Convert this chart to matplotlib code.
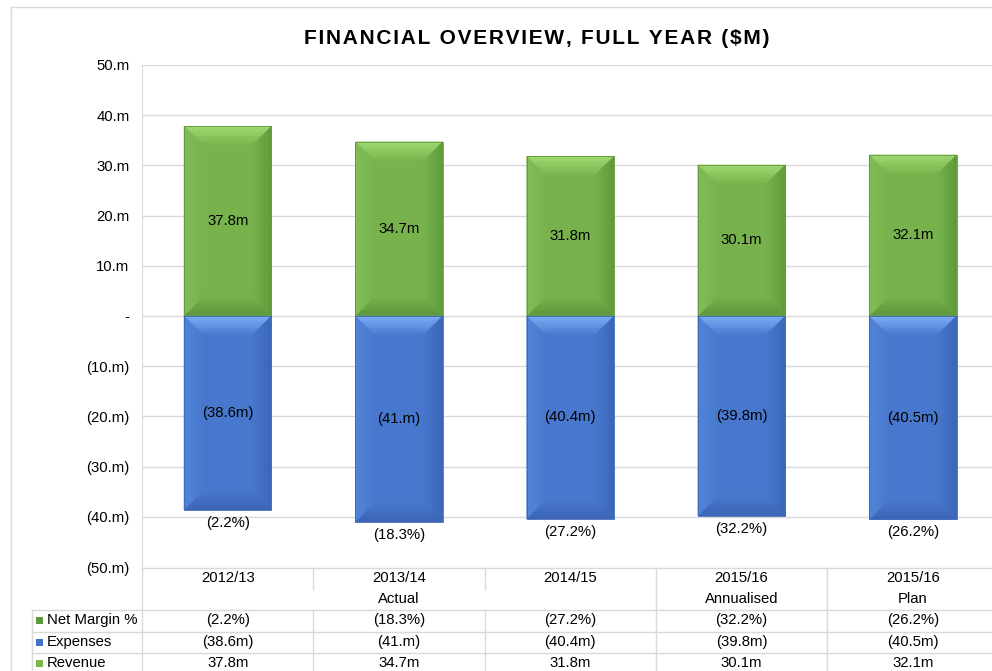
import matplotlib.pyplot as plt
import numpy as np
from matplotlib.patches import Polygon, Rectangle
from matplotlib.lines import Line2D
from matplotlib.colors import to_rgb
from matplotlib.transforms import blended_transform_factory

plt.rcParams['font.family'] = ['Liberation Sans', 'DejaVu Sans']

# data
years = ['2012/13', '2013/14', '2014/15', '2015/16', '2015/16']
groups = ['Actual', 'Annualised', 'Plan']
group_span = [(0, 2), (3, 3), (4, 4)]
revenue = [37.8, 34.7, 31.8, 30.1, 32.1]
expenses = [-38.6, -41.0, -40.4, -39.8, -40.5]
net_margin = [-2.2, -18.3, -27.2, -32.2, -26.2]
yticks = [50, 40, 30, 20, 10, 0, -10, -20, -30, -40, -50]

W, H = 992, 671
fs = 10.7
fig = plt.figure(figsize=(W / 100, H / 100), dpi=100)

def fx(px):
    return px / W

def fy(px):
    return 1 - px / H

# axes placement (right side of the chart is cut off in the reference)
cat_w = 171.3
ax = fig.add_axes([fx(142), fy(567), fx(5 * cat_w), fy(65) - fy(567)])
ax.set_xlim(-0.5, 4.5)
ax.set_ylim(-50, 50)

def fmt_m(v):
    if v == 0:
        return '-'
    s = ('%.1f' % abs(v)).rstrip('0') + 'm'
    return '(' + s + ')' if v < 0 else s

def fmt_pct(v):
    s = '%.1f%%' % abs(v)
    return '(' + s + ')' if v < 0 else s

def tick_lbl(v):
    if v == 0:
        return '-'
    s = '%d.m' % abs(v)
    return '(' + s + ')' if v < 0 else s

ax.set_yticks(yticks)
ax.set_yticklabels([tick_lbl(v) for v in yticks], fontsize=fs)
ax.set_xticks([])
ax.tick_params(axis='y', length=0, pad=9)
ax.yaxis.grid(True, color='#d9d9d9', linewidth=1)
ax.set_axisbelow(True)
for s in ['top', 'right', 'bottom']:
    ax.spines[s].set_visible(False)
ax.spines['left'].set_color('#d9d9d9')

# bevelled bars
bar_w = 0.51
bev_x = 20 / cat_w
bev_y = 20 / 5.02

green = dict(face='#77b24c', top='#a2da72', bot='#5d963a', left='#82bd57', right='#5e9a3a')
blue = dict(face='#4878cd', top='#7eaef6', bot='#3b64b4', left='#5286da', right='#3a66b8')

def mix(c1, c2, t):
    a, b = np.array(to_rgb(c1)), np.array(to_rgb(c2))
    return tuple(a + (b - a) * t)

def bevel_bar(x, y0, y1, c, n=8):
    x0, x1 = x - bar_w / 2, x + bar_w / 2
    lo, hi = min(y0, y1), max(y0, y1)
    ax.add_patch(Rectangle((x0, lo), bar_w, hi - lo, facecolor=c['face'], edgecolor='none', zorder=3))
    for k in range(n):
        a, b = k / n, (k + 1) / n
        col = lambda key: mix(c[key], c['face'], (k + 0.5) / n)
        ax_, bx_ = a * bev_x, b * bev_x
        ay_, by_ = a * bev_y, b * bev_y
        strips = [
            ([(x0 + ax_, hi - ay_), (x1 - ax_, hi - ay_), (x1 - bx_, hi - by_), (x0 + bx_, hi - by_)], 'top'),
            ([(x0 + ax_, lo + ay_), (x1 - ax_, lo + ay_), (x1 - bx_, lo + by_), (x0 + bx_, lo + by_)], 'bot'),
            ([(x0 + ax_, lo + ay_), (x0 + ax_, hi - ay_), (x0 + bx_, hi - by_), (x0 + bx_, lo + by_)], 'left'),
            ([(x1 - ax_, lo + ay_), (x1 - ax_, hi - ay_), (x1 - bx_, hi - by_), (x1 - bx_, lo + by_)], 'right'),
        ]
        for pts, key in strips:
            ax.add_patch(Polygon(pts, closed=True, facecolor=col(key), edgecolor=col(key),
                                 linewidth=0.3, zorder=3))
    ax.add_patch(Rectangle((x0, lo), bar_w, hi - lo, facecolor='none', edgecolor=c['bot'], linewidth=0.6, zorder=4))

for i in range(len(years)):
    bevel_bar(i, 0, revenue[i], green)
    bevel_bar(i, expenses[i], 0, blue)
    ax.text(i, revenue[i] / 2, fmt_m(revenue[i]), ha='center', va='center', fontsize=fs, zorder=5)
    ax.text(i, expenses[i] / 2, fmt_m(expenses[i]), ha='center', va='center', fontsize=fs, zorder=5)
    ax.annotate(fmt_pct(net_margin[i]), (i, expenses[i]), xytext=(0, -13), textcoords='offset pixels',
                ha='center', va='center', fontsize=fs, zorder=5)

# title
fig.text(fx(537), fy(38), '\u200a'.join('FINANCIAL OVERVIEW, FULL YEAR ($M)'), ha='center', va='center',
         fontsize=15, fontweight='bold')

# data table under the chart
bt = blended_transform_factory(ax.transData, fig.transFigure)
lc = '#d9d9d9'

def fline(xs, ys, tr=fig.transFigure):
    fig.add_artist(Line2D(xs, ys, color=lc, linewidth=1, transform=tr))

fline([fx(142), 1], [fy(568), fy(568)])
for yy in [610, 632, 653]:
    fline([fx(32), 1], [fy(yy), fy(yy)])
fline([fx(32), fx(32)], [fy(610), 0])
fline([fx(142), fx(142)], [fy(568), 0])
for i in range(len(years) - 1):
    b = i + 0.5
    in_group = any(a <= i and i + 1 <= e for a, e in group_span)
    if in_group:
        fline([b, b], [fy(568), fy(589)], bt)
        fline([b, b], [fy(610), 0], bt)
    else:
        fline([b, b], [fy(568), 0], bt)

for i, y in enumerate(years):
    fig.text(i, fy(578), y, transform=bt, ha='center', va='center', fontsize=fs)
    fig.text(i, fy(620), fmt_pct(net_margin[i]), transform=bt, ha='center', va='center', fontsize=fs)
    fig.text(i, fy(642), fmt_m(expenses[i]), transform=bt, ha='center', va='center', fontsize=fs)
    fig.text(i, fy(663), fmt_m(revenue[i]), transform=bt, ha='center', va='center', fontsize=fs)
for g, (a, e) in zip(groups, group_span):
    fig.text((a + e) / 2, fy(599), g, transform=bt, ha='center', va='center', fontsize=fs)

row_names = ['Net Margin %', 'Expenses', 'Revenue']
row_y = [620, 642, 663]
row_col = ['#5a9a3c', '#4472c4', '#7ab648']
for name, yy, col in zip(row_names, row_y, row_col):
    fig.add_artist(Rectangle((fx(36), fy(yy + 3.5)), fx(7), fy(yy - 3.5) - fy(yy + 3.5),
                             facecolor=col, edgecolor='none', transform=fig.transFigure))
    fig.text(fx(47), fy(yy), name, ha='left', va='center', fontsize=fs)

# chart area frame
fline([fx(11), fx(11)], [fy(7), 0])
fline([fx(11), 1], [fy(7), fy(7)])

fig.savefig('out.png', dpi=100)
